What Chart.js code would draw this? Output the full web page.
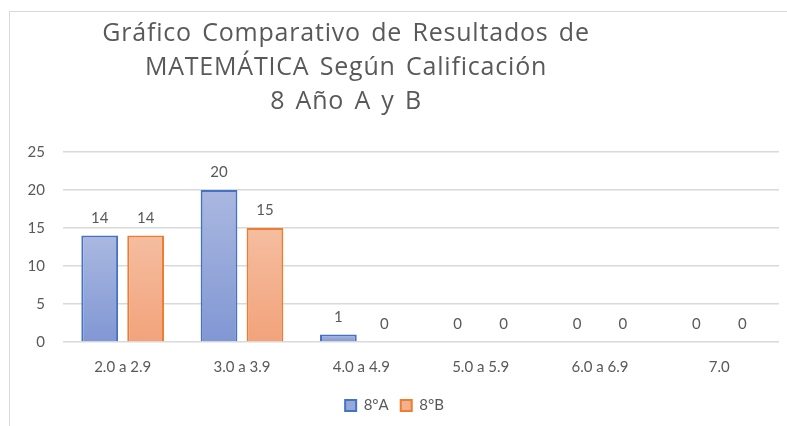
<!DOCTYPE html>
<html>
<head>
<meta charset="utf-8">
<script src="https://cdn.jsdelivr.net/npm/chart.js@4"></script>
<style>
  html, body { margin: 0; padding: 0; background: #fff; overflow: hidden; }
  body { width: 787px; height: 426px; position: relative; }
  #frame {
    position: absolute; left: 9px; top: 11px; width: 800px; height: 430px;
    border-left: 1px solid #d9d9d9; border-top: 1px solid #d9d9d9;
  }
  #wrap { position: absolute; left: 0; top: 0; width: 800px; height: 415px; }
</style>
</head>
<body>
<div id="frame"><div id="wrap"><canvas id="notas"></canvas></div></div>
<script>
// Rangos de calificación y cantidad de alumnos por curso
const rangos = ['2.0 a 2.9', '3.0 a 3.9', '4.0 a 4.9', '5.0 a 5.9', '6.0 a 6.9', '7.0'];
const curso8A = [14, 20, 1, 0, 0, 0];
const curso8B = [14, 15, 0, 0, 0, 0];
const cursos = ['8°A', '8°B'];
const titulo = ['Gráfico Comparativo de Resultados de', 'MATEMÁTICA Según Calificación', '8 Año A y B'];

const gris = '#595959';
const fuente = 'Lato, "Open Sans", sans-serif';

// relleno degradado de cada barra, de su tope hasta el cero
function degradado(arriba, abajo) {
  return function (ctx) {
    const chart = ctx.chart;
    const y = chart.scales.y;
    if (!y || !chart.chartArea) return abajo;
    const v = ctx.raw || 0;
    const y0 = y.getPixelForValue(v);
    const y1 = y.getPixelForValue(0);
    if (y1 - y0 < 1) return abajo;
    const g = chart.ctx.createLinearGradient(0, y0, 0, y1);
    g.addColorStop(0, arriba);
    g.addColorStop(1, abajo);
    return g;
  };
}

// título de tres líneas
const tituloPlugin = {
  id: 'tituloPlugin',
  afterDraw(chart) {
    const c = chart.ctx;
    c.save();
    c.fillStyle = gris;
    c.font = '25px "Open Sans", sans-serif';
    c.textAlign = 'center';
    c.textBaseline = 'middle';
    c.letterSpacing = '0.8px';
    c.wordSpacing = '3px';
    titulo.forEach((t, i) => c.fillText(t, 336, 22 + i * 34));
    c.restore();
  }
};

// valores sobre cada barra
const etiquetas = {
  id: 'etiquetas',
  afterDatasetsDraw(chart) {
    const c = chart.ctx;
    c.save();
    c.fillStyle = gris;
    c.font = '15px ' + fuente;
    c.textAlign = 'center';
    c.textBaseline = 'bottom';
    chart.data.datasets.forEach((ds, i) => {
      chart.getDatasetMeta(i).data.forEach((bar, j) => {
        c.fillText(String(ds.data[j]), bar.x, bar.y - 10);
      });
    });
    c.restore();
  }
};

new Chart(document.getElementById('notas'), {
  type: 'bar',
  data: {
    labels: rangos,
    datasets: [
      {
        label: cursos[0],
        data: curso8A,
        backgroundColor: degradado('#aab8e0', '#8197d4'),
        borderColor: '#4472c4',
        borderWidth: 2,
        borderSkipped: 'bottom'
      },
      {
        label: cursos[1],
        data: curso8B,
        backgroundColor: degradado('#f5bda0', '#f2a37b'),
        borderColor: '#ed7d31',
        borderWidth: 2,
        borderSkipped: 'bottom'
      }
    ]
  },
  options: {
    responsive: true,
    maintainAspectRatio: false,
    animation: false,
    datasets: { bar: { categoryPercentage: 0.77, barPercentage: 0.80 } },
    layout: { padding: { top: 140, right: 31, left: 0, bottom: 4 } },
    plugins: {
      title: { display: false },
      tooltip: { enabled: false },
      legend: {
        position: 'bottom',
        labels: {
          color: gris,
          font: { family: fuente, size: 15 },
          boxWidth: 11,
          boxHeight: 11,
          padding: 12,
          generateLabels(chart) {
            const fondos = ['#95a8da', '#f4b08c'];
            return chart.data.datasets.map((ds, i) => ({
              text: ds.label,
              fillStyle: fondos[i],
              strokeStyle: ds.borderColor,
              lineWidth: 2,
              fontColor: gris,
              datasetIndex: i
            }));
          }
        }
      }
    },
    scales: {
      x: {
        grid: { display: false },
        border: { display: false },
        ticks: { color: gris, font: { family: fuente, size: 15 }, padding: 8 },
        afterFit(s) { s.height = 44; }
      },
      y: {
        min: 0,
        max: 25,
        ticks: { stepSize: 5, color: gris, font: { family: fuente, size: 15 }, padding: 18 },
        grid: { color: '#d9d9d9', lineWidth: 1.5, drawTicks: false },
        border: { display: false },
        afterFit(s) { s.width = 53; }
      }
    }
  },
  plugins: [tituloPlugin, etiquetas]
});
</script>
</body>
</html>
